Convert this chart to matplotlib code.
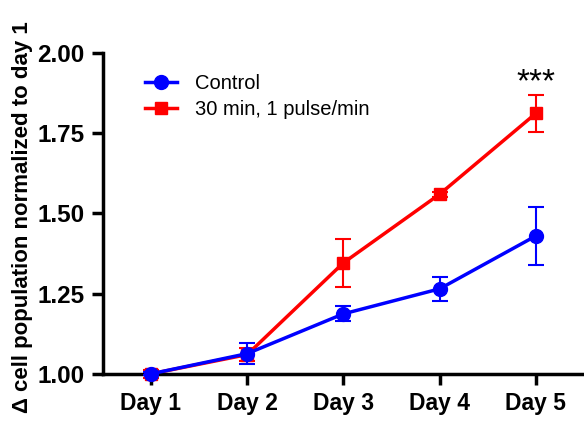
import numpy as np
import matplotlib
matplotlib.use("Agg")
import matplotlib.pyplot as plt
from matplotlib.lines import Line2D

plt.rcParams['font.family'] = ['Liberation Sans', 'DejaVu Sans']

days = ["Day 1", "Day 2", "Day 3", "Day 4", "Day 5"]
control_mean = [1.00, 1.063, 1.187, 1.265, 1.430]
control_err = [0.005, 0.032, 0.023, 0.037, 0.090]
pulse_mean = [1.00, 1.060, 1.346, 1.560, 1.812]
pulse_err = [0.012, 0.020, 0.075, 0.008, 0.057]

x = np.arange(1, len(days) + 1)

fig = plt.figure(figsize=(5.84, 4.21), dpi=100)
ax = fig.add_axes([0.176, 0.112, 0.824, 0.762])

ax.errorbar(x, pulse_mean, yerr=pulse_err, color='#ff0000', marker='s',
            markersize=9, linewidth=2.5, elinewidth=1.5, capsize=6, capthick=1.5,
            zorder=2, clip_on=False)
ax.errorbar(x, control_mean, yerr=control_err, color='#0000ff', marker='o',
            markersize=10, linewidth=2.5, elinewidth=1.5, capsize=6, capthick=1.5,
            zorder=3, clip_on=False)

ax.set_xlim(0.5, 5.5)
ax.set_ylim(1.0, 2.0)
ax.set_yticks([1.00, 1.25, 1.50, 1.75, 2.00])
ax.set_yticklabels(['1.00', '1.25', '1.50', '1.75', '2.00'])
ax.set_xticks(x)
ax.set_xticklabels(days)

for s in ['top', 'right']:
    ax.spines[s].set_visible(False)
for s in ['left', 'bottom']:
    ax.spines[s].set_linewidth(2.5)
ax.tick_params(axis='both', width=2.5, length=8, pad=5)
ax.tick_params(axis='y', labelsize=17.5)
ax.tick_params(axis='x', labelsize=16.5)
for lbl in ax.get_xticklabels() + ax.get_yticklabels():
    lbl.set_fontweight('bold')

ax.set_ylabel('Δ cell population normalized to day 1', fontsize=16,
              fontweight='bold')
ax.yaxis.set_label_coords(-0.146, 0.49)

ax.text(5, 1.86, '***', ha='center', va='bottom', fontsize=24)

handles = [
    Line2D([], [], color='#0000ff', marker='o', markersize=10, linewidth=2.5),
    Line2D([], [], color='#ff0000', marker='s', markersize=9, linewidth=2.5),
]
ax.legend(handles, ['Control', '30 min, 1 pulse/min'], loc='upper left',
          bbox_to_anchor=(0.05, 0.99), frameon=False, fontsize=14.5,
          handlelength=1.6, handletextpad=0.9, labelspacing=0.35)

fig.savefig('out.png', dpi=100)
